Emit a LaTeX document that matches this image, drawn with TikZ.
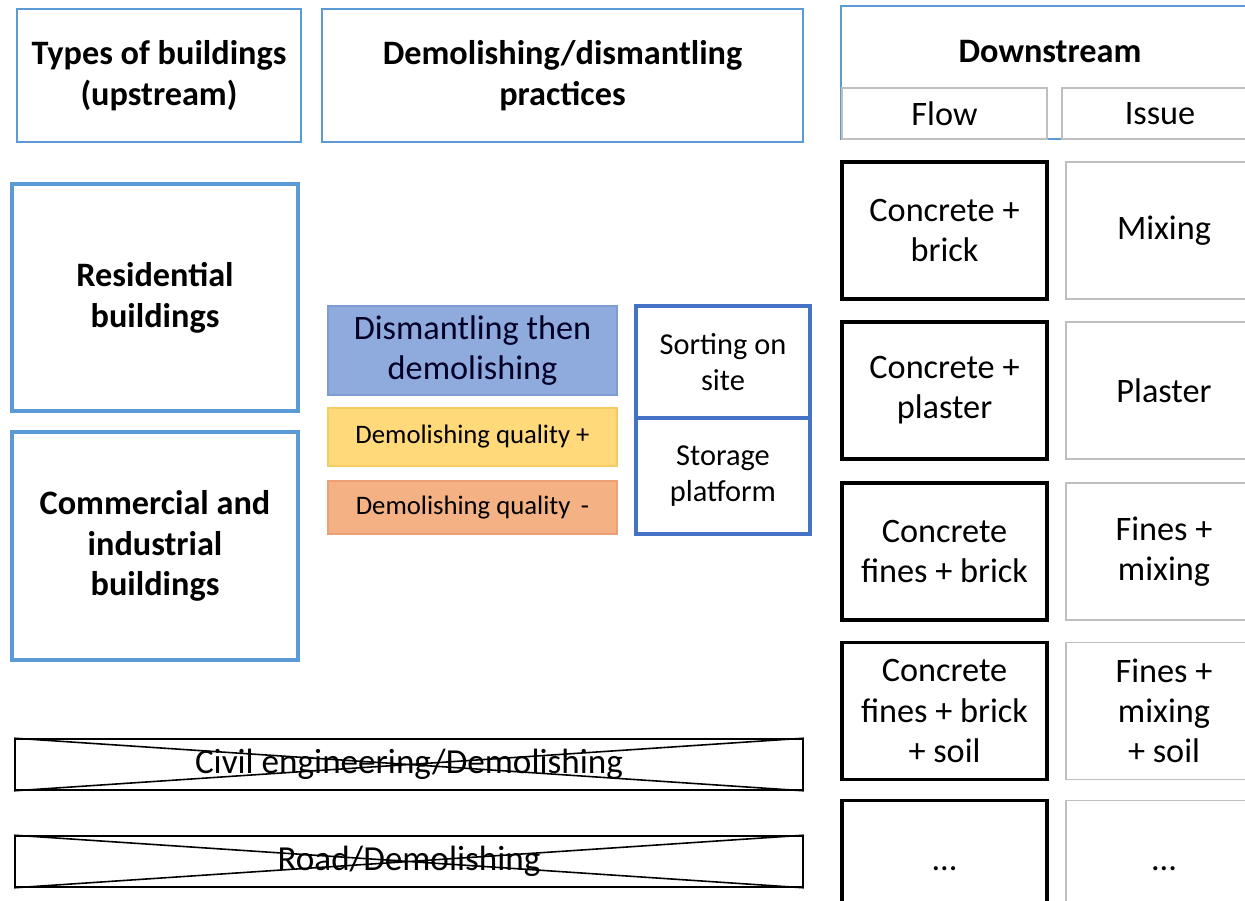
\documentclass[tikz,border=0pt]{standalone}
\usepackage{fontspec}
\setmainfont{Carlito}
\usetikzlibrary{positioning}
\definecolor{hdrblue}{HTML}{5B9BD5}
\definecolor{sortblue}{HTML}{4472C4}
\definecolor{dismfill}{HTML}{8FAADC}
\definecolor{dismline}{HTML}{7F9CD2}
\definecolor{plusfill}{HTML}{FFD97A}
\definecolor{plusline}{HTML}{F6CB62}
\definecolor{minusfill}{HTML}{F4B183}
\definecolor{minusline}{HTML}{EDA077}
\definecolor{issuegray}{HTML}{BFBFBF}
\tikzset{
  sz/.style 2 args={minimum width=#1*0.02cm, minimum height=#2*0.02cm},
  hdrbox/.style={draw=hdrblue, line width=0.6pt, inner sep=0pt, align=center,
    font=\bfseries\fontsize{19.5}{23.2}\selectfont},
  typebox/.style={draw=hdrblue, line width=1.9pt, inner sep=0pt, align=center,
    font=\bfseries\fontsize{19.5}{23.2}\selectfont},
  practbox/.style={draw=#1line, fill=#1fill, line width=0.6pt, inner sep=0pt, align=center},
  sortbox/.style={draw=sortblue, line width=2pt, inner sep=0pt, align=center,
    font=\fontsize{17.3}{20.4}\selectfont},
  crossbox/.style={draw, line width=0.9pt, inner sep=0pt,
    font=\fontsize{20}{22}\selectfont},
  flowbox/.style={draw, line width=2.2pt, inner sep=0pt, align=center,
    font=\fontsize{19.5}{22.8}\selectfont},
  issuebox/.style={draw=issuegray, line width=0.9pt, inner sep=0pt, align=center,
    font=\fontsize{19.5}{22.8}\selectfont},
}
\begin{document}
\begin{tikzpicture}[x=0.02cm, y=-0.02cm]
    \useasboundingbox (0,0) rectangle (1245,900);
    \clip (0,0) rectangle (1245,900);

    % headers
    \node[hdrbox, sz={284}{133}] (types) at (159,75.5) {Types of buildings\\(upstream)};
    \node[hdrbox, sz={481}{133}] (practices) at (562.5,75.5) {Demolishing/dismantling\\practices};
    \node[hdrbox, sz={409}{133}] (downstream) at (1045.5,72.5) {};
    \node[font=\bfseries\fontsize{19.5}{23.2}\selectfont] (dstitle) at (1050,52) {Downstream};
    \node[issuebox, sz={205}{51}] (flowhdr) at (944.5,113.5) {Flow};
    \node[issuebox, sz={196}{51}] (issuehdr) at (1160,113.5) {Issue};

    % upstream
    \node[typebox, sz={286}{227}] (resid) at (155,297.5) {Residential\\buildings};
    \node[typebox, sz={286}{228}] (comm) at (155,546) {Commercial and\\industrial\\buildings};

    % practices
    \node[practbox=dism, sz={289}{89}, font=\fontsize{19.5}{23.2}\selectfont,
      text=black!85!blue] (dism) at (472.5,350.5) {Dismantling then\\demolishing};
    \node[practbox=plus, sz={289}{58}, font=\fontsize{15.2}{18}\selectfont] (qplus) at (472.5,437) {Demolishing quality +};
    \node[practbox=minus, sz={289}{53}, font=\fontsize{15.2}{18}\selectfont] (qminus) at (472.5,507.5) {Demolishing quality \,-};
    \node[sortbox, sz={174}{112}] (sorting) at (723,362) {Sorting on\\site};
    \node[sortbox, sz={174}{116}] (storage) at (723,476) {Storage\\platform};

    % crossed out
    \node[crossbox, sz={788}{51}] (civil) at (409,764.5) {Civil engineering/Demolishing};
    \node[crossbox, sz={788}{51}] (road) at (409,861.5) {Road/Demolishing};
    \foreach \b in {civil,road}
    {
        \draw[line width=0.9pt] (\b.north west) -- (\b.south east)
                                 (\b.south west) -- (\b.north east);
    };

    % downstream rows
    \foreach \i/\y/\fl/\is in
    {1/230.5/{Concrete +\\brick}/{Mixing},
     2/390.5/{Concrete +\\plaster}/{Plaster},
     3/551.5/{Concrete\\fines + brick}/{Fines +\\mixing},
     4/711/{Concrete\\fines + brick\\+ soil}/{Fines +\\mixing\\+ soil},
     5/869/{...}/{...}}
    {
        \node[flowbox, sz={205}{137}] (flow\i) at (944.5,\y) {\fl};
        \node[issuebox, sz={196}{137}] (issue\i) at (1164,\y) {\is};
    };
\end{tikzpicture}
\end{document}
